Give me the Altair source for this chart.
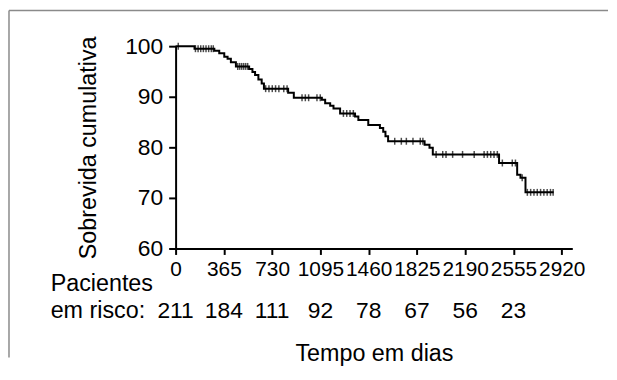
import altair as alt
import pandas as pd

# Kaplan-Meier step curve (days, cumulative survival %)
times = [0, 143, 293, 330, 368, 393, 418, 456, 556, 581, 601, 626, 651, 668, 851, 894,
         1106, 1131, 1169, 1194, 1244, 1357, 1382, 1457, 1545, 1570, 1587, 1607, 1883,
         1920, 1945, 2446, 2583, 2608, 2646, 2859]
surv = [100, 99.5, 99.1, 98.6, 97.9, 97.5, 96.8, 96.0, 95.5, 94.9, 94.3, 93.4, 92.6, 91.6,
        90.8, 89.8, 89.4, 88.7, 88.2, 87.7, 86.7, 86.1, 85.4, 84.4, 83.8, 83.1, 82.2, 81.2,
        80.5, 79.9, 78.6, 76.9, 74.6, 74.0, 71.1, 71.1]

# censored observations (days)
censored = [20, 150, 170, 190, 210, 230, 250, 270, 285, 470, 485, 500, 515, 530, 545,
            681, 706, 731, 756, 781, 818, 843, 956, 981, 1006, 1069, 1094, 1269, 1294,
            1319, 1344, 1657, 1707, 1745, 1795, 1850, 1870, 1970, 2020, 2045, 2095, 2170,
            2258, 2333, 2358, 2383, 2408, 2433, 2471, 2546, 2570, 2621, 2660, 2685, 2710,
            2735, 2760, 2785, 2810, 2835, 2855]

tick_days = [0, 365, 730, 1095, 1460, 1825, 2190, 2555, 2920]
y_ticks = [60, 70, 80, 90, 100]
risk_days = [0, 365, 730, 1095, 1460, 1825, 2190, 2555]
at_risk = [211, 184, 111, 92, 78, 67, 56, 23]
row_label_1 = "Pacientes"
row_label_2 = "em risco:"


def surv_at(t):
    s = surv[0]
    for tt, ss in zip(times, surv):
        if tt <= t:
            s = ss
    return s


curve = pd.DataFrame({"t": times, "s": surv})
cens = pd.DataFrame({"t": censored, "s": [surv_at(t) for t in censored]})
risk = pd.DataFrame({"t": risk_days, "n": [str(n) for n in at_risk]})

FONT = "Liberation Sans"

xscale = alt.Scale(domain=[0, 3000], nice=False, zero=False)
yscale = alt.Scale(domain=[60, 100], nice=False, zero=False)

xaxis = alt.Axis(values=tick_days, format="d", title="Tempo em dias", labelFontSize=21,
                 titleFontSize=23.5, titleFontWeight="normal", labelFont=FONT, titleFont=FONT,
                 grid=False, domainColor="black", domainWidth=2, tickColor="black", tickWidth=2,
                 tickSize=6, labelPadding=4, labelOverlap=False, labelFlush=False,
                 titlePadding=63, labelColor="black", titleColor="black")
yaxis = alt.Axis(values=y_ticks, format="d", title="Sobrevida cumulativa", labelFontSize=23,
                 titleFontSize=23.5, titleFontWeight="normal", labelFont=FONT, titleFont=FONT,
                 grid=False, domainColor="black", domainWidth=2, tickColor="black", tickWidth=2,
                 tickSize=7, labelPadding=6, titlePadding=24, labelColor="black",
                 titleColor="black")

line = alt.Chart(curve).mark_line(interpolate="step-after", color="black", strokeWidth=2,
                                  clip=False).encode(
    x=alt.X("t:Q", scale=xscale, axis=xaxis),
    y=alt.Y("s:Q", scale=yscale, axis=yaxis),
)

ticks = alt.Chart(cens).mark_tick(orient="vertical", color="black", size=7, thickness=1.5).encode(
    x=alt.X("t:Q", scale=xscale),
    y=alt.Y("s:Q", scale=yscale),
)

risk_text = alt.Chart(risk).mark_text(font=FONT, fontSize=23, color="black", baseline="middle",
                                      align="center").encode(
    x=alt.X("t:Q", scale=xscale),
    y=alt.value(267),
    text="n:N",
)

one = pd.DataFrame({"a": [0]})
lab1 = alt.Chart(one).mark_text(text=row_label_1, font=FONT, fontSize=23.5, color="black",
                                baseline="middle", align="left").encode(
    x=alt.value(-126), y=alt.value(240))
lab2 = alt.Chart(one).mark_text(text=row_label_2, font=FONT, fontSize=23.5, color="black",
                                baseline="middle", align="left").encode(
    x=alt.value(-126), y=alt.value(267))

border_top = alt.Chart(one).mark_rule(color="#8a8a8a", strokeWidth=1.5).encode(
    x=alt.value(-168), x2=alt.value(436), y=alt.value(-36))
border_left = alt.Chart(one).mark_rule(color="#8a8a8a", strokeWidth=1.5).encode(
    x=alt.value(-168), y=alt.value(-36), y2=alt.value(314))

chart = alt.layer(line, ticks, risk_text, lab1, lab2, border_top, border_left).properties(
    width=400, height=204, padding=0, background="white"
).configure_view(stroke=None)

chart.save("out.html", embed_options={"renderer": "svg", "actions": False})
